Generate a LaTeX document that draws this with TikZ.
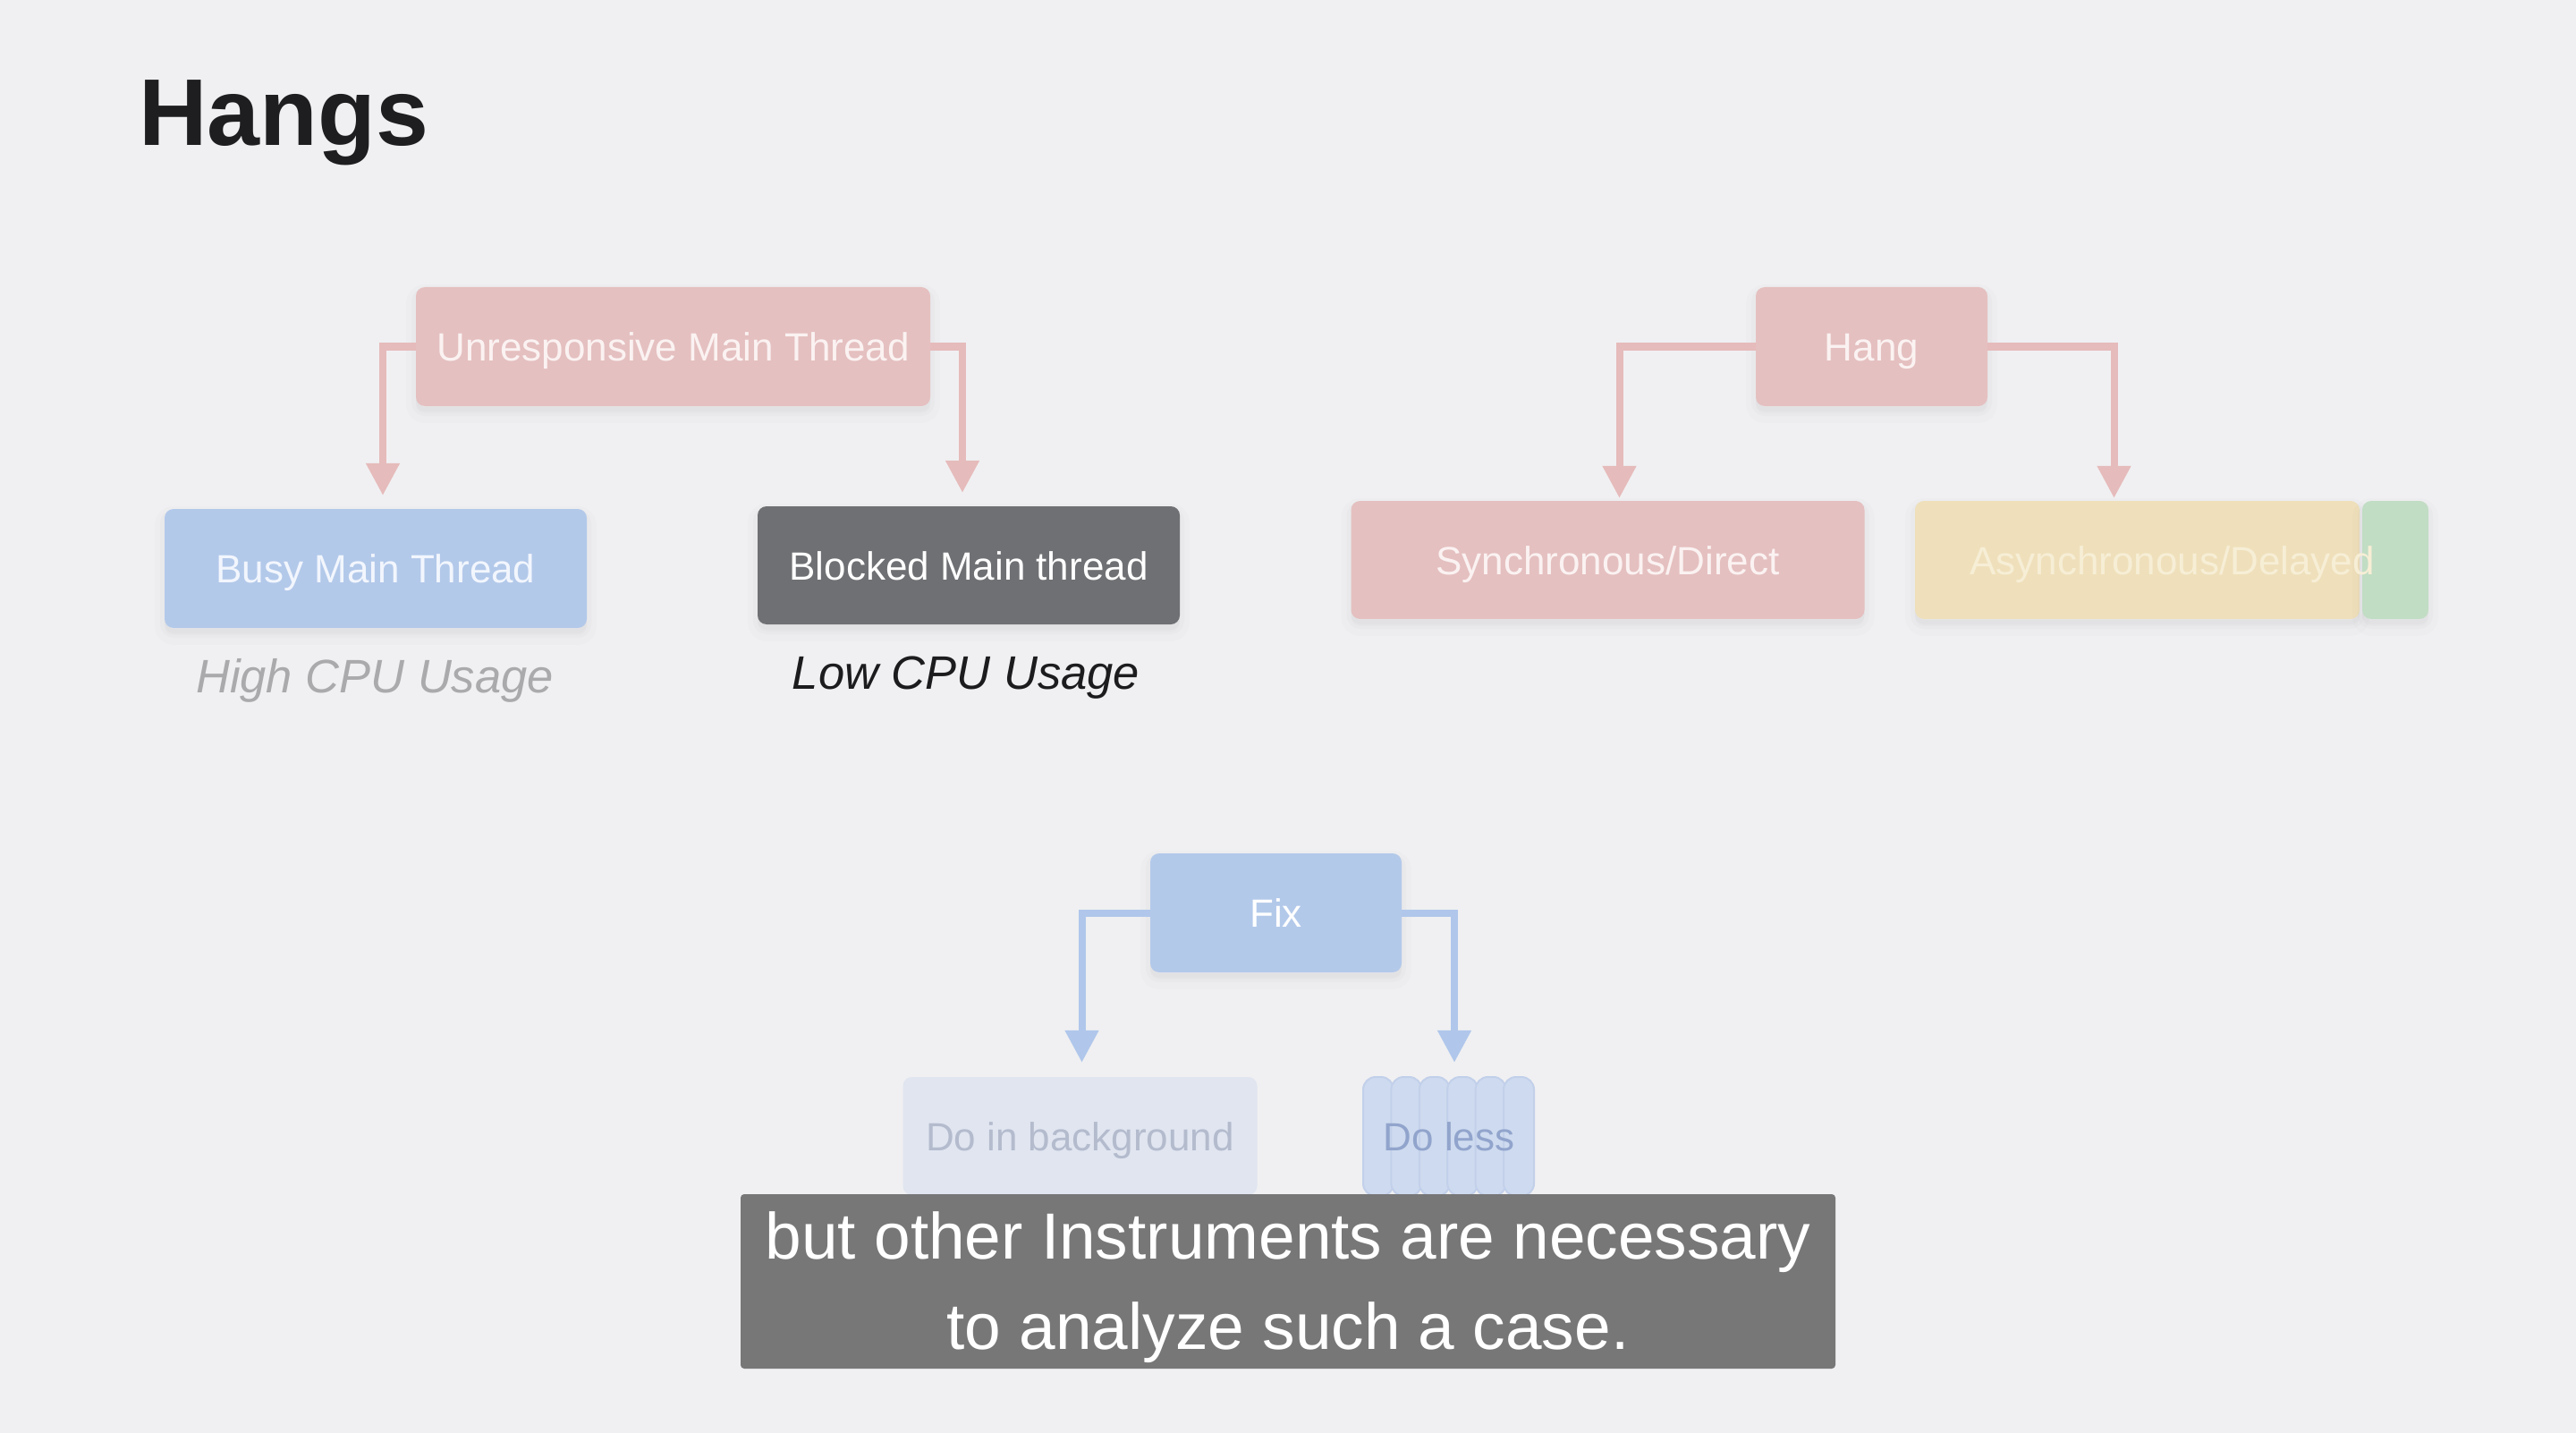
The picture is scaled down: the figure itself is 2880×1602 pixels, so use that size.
\documentclass[tikz,border=0pt]{standalone}
\usepackage{fontspec}
\setmainfont{Liberation Sans}
\usetikzlibrary{arrows.meta,calc}
\definecolor{bgc}{RGB}{240,240,242}
\definecolor{titlec}{RGB}{30,30,32}
\definecolor{pinkbox}{RGB}{229,192,192}
\definecolor{pinkarrow}{RGB}{230,187,187}
\definecolor{pinktext}{RGB}{251,242,242}
\definecolor{bluebox}{RGB}{179,201,234}
\definecolor{bluearrow}{RGB}{176,199,235}
\definecolor{bluetext}{RGB}{242,246,253}
\definecolor{darkbox}{RGB}{111,112,115}
\definecolor{yellowbox}{RGB}{239,224,187}
\definecolor{yellowtext}{RGB}{247,238,214}
\definecolor{greenbox}{RGB}{193,221,196}
\definecolor{bgbox}{RGB}{224,229,240}
\definecolor{bgtext}{RGB}{179,187,205}
\definecolor{pillfill}{RGB}{206,218,239}
\definecolor{pillline}{RGB}{194,208,234}
\definecolor{lesstext}{RGB}{145,164,204}
\definecolor{subbox}{RGB}{119,119,120}
\definecolor{highc}{RGB}{170,170,172}
\definecolor{lowc}{RGB}{28,28,30}
\begin{document}
\begin{tikzpicture}[x=1pt,y=-1pt,
  softshadow/.style={
    preaction={fill=black, fill opacity=0.012, draw=black, draw opacity=0.012, line width=22pt, transform canvas={yshift=-8pt}},
    preaction={fill=black, fill opacity=0.015, draw=black, draw opacity=0.015, line width=10pt, transform canvas={yshift=-6pt}}},
  box/.style={rounded corners=10pt, minimum height=133pt, inner sep=0pt,
    text height=32pt, text depth=0pt, font=\fontsize{44}{52}\selectfont},
  sbox/.style={box, softshadow},
  parrow/.style={draw=pinkarrow, line width=8pt, -{Triangle[width=36pt,length=36pt]}},
  barrow/.style={draw=bluearrow, line width=8pt, -{Triangle[width=36pt,length=36pt]}},
  cpu/.style={inner sep=0pt, font=\itshape\fontsize{52.5}{60}\selectfont},
  pill/.style={rounded corners=14pt, fill=pillfill, draw=pillline, line width=2pt},
  subline/.style={anchor=base, inner sep=0pt, text=white, font=\fontsize{73}{101}\selectfont}
]
\useasboundingbox (0,0) rectangle (2880,1602);
\fill[bgc] (0,0) rectangle (2880,1602);

% title
\node[anchor=base west, inner sep=0pt, text=titlec, font=\bfseries\fontsize{106}{120}\selectfont] (title) at (155,163) {Hangs};

% left tree
\node[sbox, fill=pinkbox, text=pinktext, minimum width=575pt] (u) at (752.5,387.5) {Unresponsive Main Thread};
\node[sbox, fill=bluebox, text=bluetext, minimum width=472pt] (busy) at (420,635.5) {Busy Main Thread};
\node[sbox, fill=darkbox, text=white, minimum width=472pt, minimum height=132pt] (blocked) at (1083,632) {Blocked Main thread};
\node[cpu, text=highc] (high) at (419,761) {High CPU Usage};
\node[cpu, text=lowc] (low) at (1080,758) {Low CPU Usage};
\draw[parrow] (u.west) -| ($(busy.north)+(8,-15)$);
\draw[parrow] (u.east) -| ($(blocked.north)+(-7,-15)$);

% right tree
\node[sbox, fill=pinkbox, text=pinktext, minimum width=259pt] (hang) at (2092.5,387.5) {Hang};
\node[sbox, fill=pinkbox, text=pinktext, minimum width=574pt, minimum height=132pt] (sync) at (1797.5,626) {Synchronous/Direct};
\node[sbox, fill=yellowbox, minimum width=497pt, minimum height=132pt] (asyncbg) at (2389.5,626) {};
\node[sbox, fill=greenbox, minimum width=74pt, minimum height=132pt] (asyncg) at (2678,626) {};
\node[box, text=yellowtext] (async) at (2428.5,626) {Asynchronous/Delayed};
\draw[parrow] (hang.west) -| ($(sync.north)+(13,-3)$);
\draw[parrow] (hang.east) -| ($(asyncbg.north)+(-26,-3)$);

% bottom tree
\node[sbox, fill=bluebox, text=white, minimum width=281pt] (fix) at (1426.5,1020.5) {Fix};
\node[box, fill=bgbox, text=bgtext, minimum width=396pt, minimum height=132pt] (bg) at (1207.5,1270) {Do in background};
\foreach \i in {0,...,5}{
  \path[pill] ({1524+31.4*\i},1204) rectangle ({1524+31.4*\i+34},1337);
}
\node[box, text=lesstext, minimum width=190pt, minimum height=132pt] (less) at (1620,1270) {Do less};
\draw[barrow] (fix.west) -| ($(bg.north)+(2,-16)$);
\draw[barrow] (fix.east) -| ($(less.north)+(6,-16)$);

% subtitle
\node[fill=subbox, rounded corners=4pt, minimum width=1224pt, minimum height=195pt, inner sep=0pt] (sub) at (1440,1432.5) {};
\node[subline] (sub1) at (1440,1407) {but other Instruments are necessary};
\node[subline] (sub2) at (1440,1508) {to analyze such a case.};
\end{tikzpicture}
\end{document}
